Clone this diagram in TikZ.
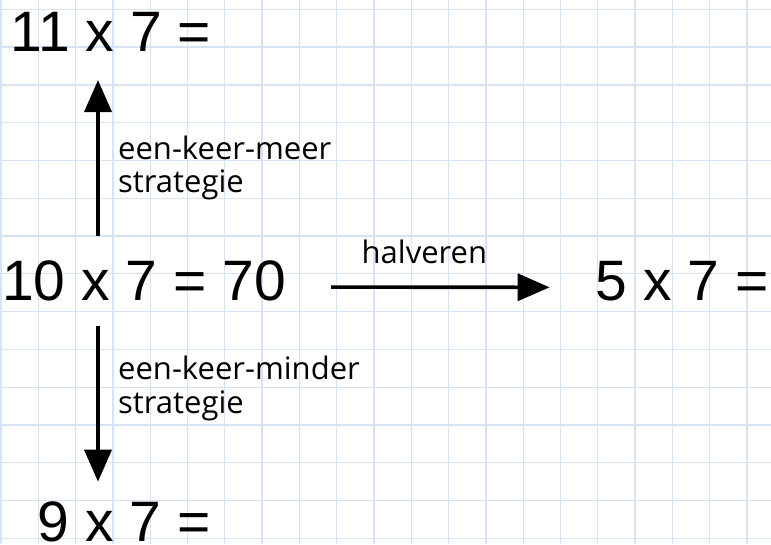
\documentclass[tikz,border=0pt]{standalone}
\usepackage{fontspec}
\setmainfont{Liberation Sans}
\newfontfamily\labelfont{Open Sans}
\usetikzlibrary{arrows.meta,positioning}

\definecolor{gridblue}{RGB}{214,227,245}

\begin{document}
\begin{tikzpicture}[
  x=1pt, y=-1pt,
  sum/.style={inner sep=0pt, anchor=base west, font=\fontsize{57}{60}\selectfont},
  strat/.style={inner sep=0pt, anchor=base west, align=left, font=\labelfont\fontsize{31}{33.5}\selectfont},
  arr/.style={line width=3.6pt, -{Triangle[length=32pt, width=27pt]}},
]
  \useasboundingbox (0,0) rectangle (771,544);
  % squared paper
  \foreach \i in {0,...,20} \draw[gridblue, line width=1.3pt] (1+37.3*\i,0) -- (1+37.3*\i,544);
  \foreach \j in {0,...,14} \draw[gridblue, line width=1.3pt] (0,9.3+37.79*\j) -- (771,9.3+37.79*\j);

  \node[sum, inner ysep=25pt] (ten) at (2,300.7) {10 x 7 = 70};
  \node[sum] (eleven) at (10.5,51.7) {11 x 7 =};
  \node[sum] (nine) at (37.6,541) {9 x 7 =};
  \node[sum] (five) at (595.6,300.7) {5 x 7 =};

  \coordinate (uptip) at (98,80);
  \coordinate (downtip) at (98,481.7);

  \draw[arr] (ten.north -| uptip) -- (uptip);
  \draw[arr] (ten.south -| downtip) -- (downtip);
  \draw[arr, shorten <=45pt, shorten >=46pt] ([yshift=-6pt]ten.east) -- ([yshift=-6pt]five.west)
    node[pos=0.447, above=22pt, inner sep=0pt, font=\labelfont\fontsize{31}{33}\selectfont] (half) {halveren};

  \node[strat] (more) at (118,192.7) {een-keer-meer\\strategie};
  \node[strat] (less) at (118,413.3) {een-keer-minder\\strategie};
\end{tikzpicture}
\end{document}
